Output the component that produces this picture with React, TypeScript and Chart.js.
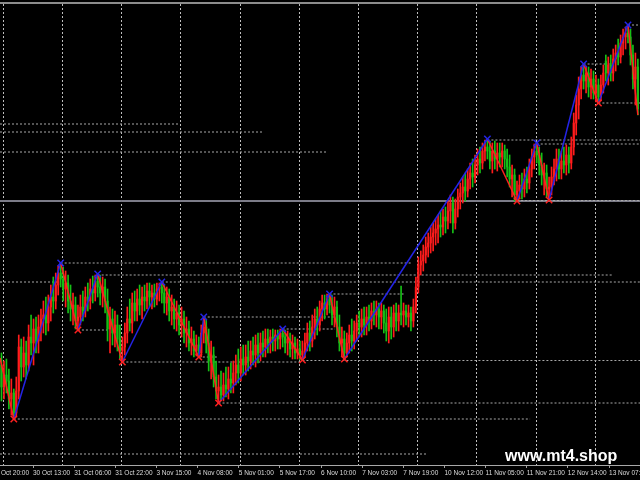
import React, { useEffect, useRef } from "react";
import { Chart, registerables } from "chart.js";

Chart.register(...registerables);

// ---- Hourly candles (price points) ----
const opens = [
  100, 78, 90, 84, 66, 72, 52, 74, 118, 98, 112, 100, 128, 122, 136, 124, 138, 146, 150, 142,
  158, 168, 164, 180, 192, 186, 176, 182, 164, 156, 160, 144, 148, 158, 154, 168, 164, 176, 172, 184,
  178, 172, 178, 164, 136, 146, 132, 140, 126, 114, 118, 132, 146, 142, 162, 154, 166, 160, 168, 164,
  174, 168, 172, 166, 176, 178, 172, 162, 168, 154, 158, 146, 152, 140, 146, 132, 136, 122, 126, 114,
  120, 112, 132, 138, 122, 104, 110, 88, 74, 78, 70, 80, 76, 86, 82, 92, 100, 92, 106, 100,
  108, 104, 114, 110, 120, 112, 122, 118, 126, 122, 128, 124, 130, 126, 132, 128, 122, 126, 116, 122,
  112, 116, 110, 114, 122, 132, 124, 138, 146, 140, 156, 162, 156, 166, 160, 150, 158, 138, 122, 126,
  112, 122, 130, 124, 134, 142, 138, 146, 140, 148, 144, 154, 150, 156, 148, 154, 142, 134, 148, 138,
  152, 144, 152, 150, 154, 148, 152, 144, 158, 178, 200, 204, 210, 218, 222, 228, 232, 236, 240, 238,
  248, 244, 254, 262, 242, 256, 268, 272, 278, 274, 286, 292, 288, 300, 306, 302, 314, 318, 314, 304,
  314, 306, 312, 308, 314, 306, 298, 286, 290, 270, 274, 280, 276, 286, 282, 296, 308, 314, 310, 300,
  290, 292, 276, 278, 288, 296, 306, 296, 304, 300, 310, 302, 318, 342, 360, 376, 390, 384, 392, 378,
  386, 372, 380, 368, 380, 404, 392, 400, 392, 406, 412, 408, 422, 428, 432, 428, 410, 386, 398,
];
const highs = [
  112, 104, 106, 96, 86, 76, 88, 130, 126, 128, 124, 140, 150, 146, 148, 150, 156, 164, 168, 170,
  180, 188, 192, 199, 202, 198, 194, 190, 180, 172, 168, 160, 170, 174, 178, 182, 186, 189, 190, 191,
  190, 188, 186, 176, 158, 156, 154, 150, 140, 128, 142, 158, 166, 172, 174, 176, 180, 178, 180, 182,
  182, 180, 181, 182, 182, 183, 180, 178, 176, 170, 166, 164, 160, 158, 154, 148, 144, 138, 134, 130,
  128, 140, 148, 146, 136, 124, 118, 104, 90, 94, 92, 98, 98, 102, 104, 110, 116, 118, 120, 120,
  124, 124, 128, 130, 132, 132, 134, 136, 136, 135, 136, 135, 135, 136, 136, 135, 134, 132, 130, 128,
  126, 124, 124, 132, 142, 144, 150, 156, 158, 164, 170, 170, 171, 171, 170, 168, 164, 150, 138, 134,
  132, 140, 146, 144, 150, 154, 156, 158, 158, 160, 162, 164, 164, 162, 162, 160, 156, 158, 158, 160,
  162, 160, 179, 162, 160, 160, 158, 166, 188, 208, 214, 220, 228, 232, 238, 242, 246, 250, 254, 256,
  258, 264, 270, 268, 266, 276, 282, 288, 292, 296, 302, 306, 310, 316, 318, 322, 325, 326, 324, 322,
  324, 322, 322, 322, 320, 316, 310, 300, 296, 284, 290, 292, 296, 298, 306, 316, 321, 322, 318, 312,
  302, 300, 288, 298, 306, 316, 316, 314, 318, 320, 318, 328, 352, 370, 388, 398, 401, 399, 398, 396,
  394, 390, 386, 390, 400, 410, 408, 410, 416, 420, 426, 430, 436, 438, 440, 436, 420, 412, 406,
];
const lows = [
  64, 66, 72, 56, 50, 46, 48, 66, 84, 88, 86, 94, 110, 100, 112, 112, 124, 132, 130, 134,
  144, 152, 156, 170, 178, 164, 158, 152, 144, 140, 136, 135, 140, 144, 148, 154, 156, 162, 164, 168,
  160, 158, 152, 124, 112, 120, 118, 114, 106, 103, 110, 122, 134, 132, 144, 144, 150, 146, 154, 156,
  158, 156, 158, 160, 164, 162, 152, 150, 144, 140, 136, 134, 130, 128, 122, 118, 114, 110, 108, 109,
  108, 108, 122, 112, 94, 86, 78, 66, 62, 64, 64, 68, 66, 72, 72, 80, 82, 84, 90, 90,
  94, 96, 100, 98, 102, 104, 108, 108, 112, 112, 114, 114, 116, 116, 118, 112, 110, 108, 106, 106,
  106, 105, 105, 108, 114, 114, 118, 126, 130, 134, 144, 146, 150, 152, 140, 138, 128, 114, 108, 106,
  108, 112, 114, 116, 124, 128, 128, 130, 130, 134, 136, 140, 138, 136, 136, 132, 124, 122, 126, 128,
  134, 134, 140, 138, 140, 138, 134, 138, 152, 172, 190, 194, 202, 208, 212, 214, 220, 222, 228, 230,
  232, 236, 242, 232, 236, 248, 256, 262, 264, 268, 276, 278, 282, 290, 292, 296, 304, 306, 296, 292,
  296, 294, 298, 298, 296, 288, 278, 268, 264, 264, 266, 266, 268, 272, 276, 288, 296, 302, 290, 280,
  270, 268, 265, 270, 280, 284, 286, 286, 292, 290, 292, 296, 310, 330, 346, 366, 376, 372, 368, 366,
  366, 363, 362, 364, 372, 384, 380, 384, 384, 394, 400, 402, 410, 416, 422, 400, 376, 360, 350,
];
const closes = [
  78, 90, 84, 66, 72, 52, 74, 118, 98, 112, 100, 128, 122, 136, 124, 138, 146, 150, 142, 158,
  168, 164, 180, 192, 186, 176, 182, 164, 156, 160, 144, 148, 158, 154, 168, 164, 176, 172, 184, 178,
  172, 178, 164, 136, 146, 132, 140, 126, 114, 118, 132, 146, 142, 162, 154, 166, 160, 168, 164, 174,
  168, 172, 166, 176, 178, 172, 162, 168, 154, 158, 146, 152, 140, 146, 132, 136, 122, 126, 114, 120,
  112, 132, 138, 122, 104, 110, 88, 74, 78, 70, 80, 76, 86, 82, 92, 100, 92, 106, 100, 108,
  104, 114, 110, 120, 112, 122, 118, 126, 122, 128, 124, 130, 126, 132, 128, 122, 126, 116, 122, 112,
  116, 110, 114, 122, 132, 124, 138, 146, 140, 156, 162, 156, 166, 160, 150, 158, 138, 122, 126, 112,
  122, 130, 124, 134, 142, 138, 146, 140, 148, 144, 154, 150, 156, 148, 154, 142, 134, 148, 138, 152,
  144, 152, 150, 154, 148, 152, 144, 158, 178, 200, 204, 210, 218, 222, 228, 232, 236, 240, 238, 248,
  244, 254, 262, 242, 256, 268, 272, 278, 274, 286, 292, 288, 300, 306, 302, 314, 318, 314, 304, 314,
  306, 312, 308, 314, 306, 298, 286, 290, 270, 274, 280, 276, 286, 282, 296, 308, 314, 310, 300, 290,
  292, 276, 278, 288, 296, 306, 296, 304, 300, 310, 302, 318, 342, 360, 376, 390, 384, 392, 378, 386,
  372, 380, 368, 380, 392, 392, 400, 392, 406, 412, 408, 422, 428, 432, 428, 410, 386, 398, 356,
];

// ---- ZigZag pivots (bar index, price, kind) ----
const pivotBars = [-0.6, 5, 24, 31, 39, 49, 65, 80, 82, 88, 114, 122, 133, 139, 197, 209, 217, 222, 236, 242, 254, 258];
const pivotValues = [107, 46, 202, 135, 191, 103, 183, 108, 148, 62, 136, 105, 171, 106, 326, 264, 322, 265, 401, 362, 440, 350];
const pivotKinds = ["", "L", "H", "L", "H", "L", "H", "L", "H", "L", "H", "L", "H", "L", "H", "L", "H", "L", "H", "L", "H", ""];

// ---- Dotted pivot level lines (from bar, to bar, price) ----
const levelStarts = [-0.6, -0.6, -0.6, -0.6, -0.6, 5, 24, 31, 39, 49, 65, 80, 82, 88, 114, 122, 133, 197, 209, 217, 236, 242, 254];
const levelEnds = [72.4, 106, 132, 23.7, 172.5, 214.3, 166.4, 44, 247.5, 122, 259, 88, 135.2, 259, 135.2, 259, 163.2, 259, 259, 259, 248, 259, 259];
const levelValues = [341, 333, 313, 183, 11, 46, 202, 135, 190, 103, 183, 108, 148, 62, 136, 104.5, 171, 325, 264.5, 321, 401, 362, 440];

// ---- Solid horizontal line ----
const horizontalLineValue = 264;

// ---- Time axis labels ----
const timeLabels = [
  "29 Oct 20:00", "30 Oct 13:00", "31 Oct 06:00", "31 Oct 22:00", "3 Nov 15:00", "4 Nov 08:00",
  "5 Nov 01:00", "5 Nov 17:00", "6 Nov 10:00", "7 Nov 03:00", "7 Nov 19:00", "10 Nov 12:00",
  "11 Nov 05:00", "11 Nov 21:00", "12 Nov 14:00", "13 Nov 07:00",
];

const X_MIN = -0.6;
const X_MAX = 258.86;
const LABEL_FIRST = -3.9;
const LABEL_STEP = 16.68;
const GRID_FIRST = 0.74;
const GRID_STEP = 24;
const GRID_COUNT = 11;

const UP_COLOR = "#ff1c1c";
const DOWN_COLOR = "#16c016";
const ZZ_UP = "#2424e6";
const ZZ_DOWN = "#ff2020";

export default function App() {
  const ref = useRef<HTMLCanvasElement>(null);

  useEffect(() => {
    const canvas = ref.current;
    if (!canvas) return;

    const idx = opens.map((_, i) => i);
    const colors = idx.map((i) => (closes[i] > opens[i] ? UP_COLOR : DOWN_COLOR));

    const levelData: any[] = [];
    levelStarts.forEach((s, i) => {
      levelData.push({ x: s, y: levelValues[i] });
      levelData.push({ x: levelEnds[i], y: levelValues[i] });
      levelData.push({ x: levelEnds[i], y: null });
    });

    const zigData = pivotBars.map((b, i) => ({ x: b, y: pivotValues[i] }));

    const bgPlugin = {
      id: "bg",
      beforeDraw(chart: any) {
        const c = chart.ctx;
        c.save();
        c.fillStyle = "#000000";
        c.fillRect(0, 0, chart.width, chart.height);
        c.restore();
      },
    };
    const watermark = {
      id: "watermark",
      afterDraw(chart: any) {
        const c = chart.ctx;
        c.save();
        c.fillStyle = "#ffffff";
        c.font = 'bold 16px "Liberation Sans", Arial, sans-serif';
        c.textAlign = "left";
        c.textBaseline = "alphabetic";
        c.fillText("www.mt4.shop", 505, 461);
        c.restore();
      },
    };

    const chart = new Chart(canvas, {
      type: "bar",
      data: {
        datasets: [
          {
            type: "line",
            label: "ZigZag",
            data: zigData,
            order: 0,
            borderWidth: 1.5,
            borderColor: ZZ_DOWN,
            tension: 0,
            segment: {
              borderColor: (c: any) => (c.p1.parsed.y > c.p0.parsed.y ? ZZ_UP : ZZ_DOWN),
            },
            pointStyle: "crossRot",
            pointRadius: pivotKinds.map((k) => (k ? 4.5 : 0)),
            pointBorderColor: pivotKinds.map((k) => (k === "H" ? ZZ_UP : ZZ_DOWN)),
            pointBackgroundColor: "transparent",
            pointBorderWidth: 1.5,
          } as any,
          {
            type: "bar",
            label: "Body",
            data: idx.map((i) => ({ x: i, y: [opens[i], closes[i]] })),
            backgroundColor: colors,
            barThickness: 1.5,
            grouped: false,
            order: 1,
          } as any,
          {
            type: "bar",
            label: "Wick",
            data: idx.map((i) => ({ x: i, y: [lows[i], highs[i]] })),
            backgroundColor: colors,
            barThickness: 1,
            grouped: false,
            order: 2,
          } as any,
          {
            type: "line",
            label: "Levels",
            data: levelData,
            borderColor: "#a8a8a8",
            borderWidth: 1,
            borderDash: [2, 2],
            pointRadius: 0,
            spanGaps: false,
            order: 3,
          } as any,
          {
            type: "line",
            label: "HLine",
            data: [
              { x: -2, y: horizontalLineValue },
              { x: 262, y: horizontalLineValue },
            ],
            borderColor: "#7c7c88",
            borderWidth: 2,
            pointRadius: 0,
            order: 4,
          } as any,
        ],
      },
      options: {
        responsive: false,
        animation: false,
        devicePixelRatio: 1,
        events: [],
        layout: { padding: 0, autoPadding: false },
        plugins: { legend: { display: false }, tooltip: { enabled: false } },
        scales: {
          x: {
            type: "linear",
            position: "bottom",
            min: X_MIN,
            max: X_MAX,
            offset: false,
            grid: {
              display: true,
              drawOnChartArea: false,
              drawTicks: true,
              tickLength: 3,
              color: "#a0a0a0",
              offset: false,
            },
            border: { display: true, color: "#a8a8a8", width: 1 },
            ticks: {
              autoSkip: false,
              maxRotation: 0,
              minRotation: 0,
              align: "start",
              padding: 1,
              color: "#dcdcdc",
              font: { family: '"Liberation Sans", Arial, sans-serif', size: 6.5 },
              callback: (_v: any, i: number) => timeLabels[i] ?? "",
            },
            afterBuildTicks: (s: any) => {
              s.ticks = timeLabels.map((_, k) => ({ value: LABEL_FIRST + k * LABEL_STEP }));
            },
            afterFit: (s: any) => {
              s.height = 15;
              s.paddingLeft = 0;
              s.paddingRight = 0;
            },
          } as any,
          xg: {
            type: "linear",
            position: "top",
            min: X_MIN,
            max: X_MAX,
            offset: false,
            grid: {
              display: true,
              drawOnChartArea: true,
              drawTicks: false,
              color: "#bdbdbd",
              lineWidth: 1,
              offset: false,
            },
            border: { display: true, color: "#8c8c8c", width: 2, dash: [2, 2] },
            ticks: { display: false },
            afterBuildTicks: (s: any) => {
              s.ticks = Array.from({ length: GRID_COUNT }, (_, k) => ({ value: GRID_FIRST + k * GRID_STEP }));
            },
            afterFit: (s: any) => {
              s.height = 3;
              s.paddingLeft = 0;
              s.paddingRight = 0;
            },
          } as any,
          y: { display: false, min: 0, max: 462 },
        },
      } as any,
      plugins: [bgPlugin, watermark],
    });

    return () => chart.destroy();
  }, []);

  return (
    <div style={{ position: "fixed", left: 0, top: 0, width: 640, height: 480, background: "#000" }}>
      <canvas ref={ref} width={640} height={480} style={{ display: "block" }} />
    </div>
  );
}
